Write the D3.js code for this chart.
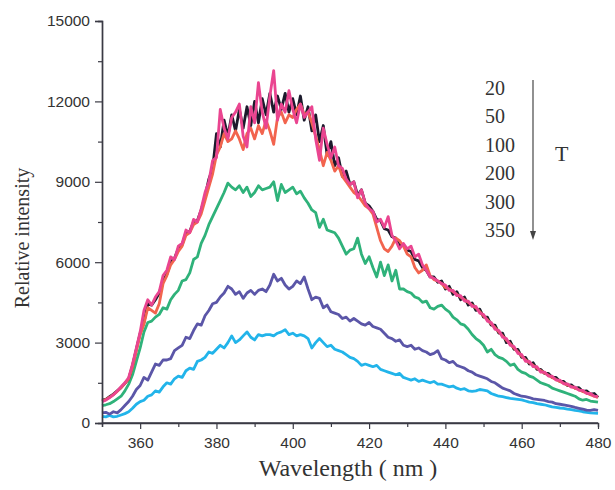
<!DOCTYPE html>
<html>
<head>
<meta charset="utf-8">
<script src="https://cdn.jsdelivr.net/npm/d3@7/dist/d3.min.js"></script>
<style>
  html, body { margin: 0; padding: 0; background: #fff; }
  svg { display: block; }
</style>
</head>
<body>
<svg id="chart" width="615" height="490"></svg>
<script>
// Wavelength axis (nm), 1 nm steps from 350 to 480
const wavelengths = d3.range(350, 481, 1);

const xTicks = [360, 380, 400, 420, 440, 460, 480];
const yTicks = [0, 3000, 6000, 9000, 12000, 15000];
const legendLabels = ["20", "50", "100", "200", "300", "350"];

// Series (relative intensity), one value per nm, 350..480
const sT20 = [
  850, 880, 980, 1080, 1200, 1320, 1480, 1650,
  2150, 2750, 3350, 3750, 4450, 4400, 4600,
  4850, 5300, 5550, 6000, 6150, 6500, 6650, 7100, 7150, 7500, 7550, 7950,
  8450, 9100, 9500, 10800, 10300, 11300, 10700, 11500,
  10900, 11700, 11000, 11800, 11100, 12000, 11200, 12100, 11500, 12300, 11600, 12200, 11700, 12300, 11600,
  12100, 11500, 12200, 11300, 11800, 10900, 11500, 10500, 11100, 10000, 10500, 9600, 9900, 9200, 9400,
  8900, 9000, 8500, 8700, 8200, 8100, 7900, 7600, 7550, 7250, 7200, 6950, 6900, 6600, 6650, 6450,
  6400, 6100, 6050, 5800, 5700, 5450, 5450, 5250, 5300, 5000, 5100, 4800, 4900, 4600, 4700, 4400, 4480, 4200, 4250, 3950,
  3950, 3650, 3650, 3350, 3350, 3000, 3050, 2750, 2750, 2450, 2450, 2200, 2250, 2000, 2000,
  1850, 1850, 1700, 1700, 1550, 1550, 1400, 1420, 1300, 1320, 1180, 1200, 1080, 1100, 950
];
const sT50 = [
  800, 850, 950, 1050, 1200, 1350, 1500, 1700,
  2200, 2800, 3400, 4200, 4600, 4400, 4700,
  4900, 5500, 5700, 6200, 6100, 6600, 6700, 7200, 7100, 7600, 7500, 8000,
  8600, 9000, 9800, 9900, 11700, 11000, 10600, 11400,
  11600, 11900, 10700, 10300, 11800, 11200, 12700, 11600, 11000, 12200, 13150, 11300, 11900, 11600, 12400,
  11700, 11200, 11900, 11400, 11600, 11800, 10600, 9800, 11000, 10400, 9900, 10300, 9600, 9500, 9100,
  8900, 9000, 8400, 8700, 8200, 8000, 7900, 7500, 7600, 7300, 7700, 7000, 6800, 6500, 6700, 6500,
  6600, 6200, 6300, 5900, 5700, 5450, 5400, 5300, 5200, 5150, 4950, 4950, 4750, 4750, 4550, 4550, 4350, 4350, 4100, 4050,
  3800, 3750, 3500, 3450, 3200, 3150, 2900, 2850, 2600, 2550, 2300, 2300, 2100, 2100, 1900,
  1900, 1750, 1750, 1600, 1600, 1460, 1460, 1340, 1340, 1220, 1220, 1100, 1100, 1000, 980
];
const sT100 = [
  820, 870, 960, 1060, 1180, 1320, 1480, 1650,
  2100, 2700, 3300, 3700, 4300, 4200, 4100,
  4450, 5200, 5500, 5900, 6100, 6400, 6600, 7000, 7100, 7400, 7500, 7800,
  8300, 8800, 9300, 10000, 10300, 10800, 10500, 10600,
  10900, 10600, 10200, 10800, 11000, 10600, 11100, 10800, 11300, 10900, 10400, 11400, 11600, 11200, 11500,
  11400, 11700, 11900, 11500, 11600, 11200, 10700, 10200, 9600, 10100, 9800, 9400, 9600, 9200, 9000,
  8800, 8600, 8500, 8300, 8100, 8000, 7800, 7300, 6800, 6500, 6400, 6600, 6900, 6800, 6600, 6300,
  6200, 5800, 5600, 5700, 5900, 5500, 5350, 5300, 5200, 5050, 5000, 4900, 4800, 4700, 4600, 4500, 4400, 4300, 4150, 4000,
  3850, 3700, 3560, 3400, 3250, 3100, 2950, 2800, 2650, 2500, 2360, 2250, 2150, 2050, 1950,
  1860, 1780, 1700, 1620, 1550, 1480, 1420, 1360, 1300, 1240, 1180, 1120, 1060, 1000, 950
];
const sT200 = [
  650, 680, 720, 800, 900, 1000, 1200, 1450, 1800, 2300,
  2800, 3400, 3750, 3800, 3950, 4050, 4300, 4250, 4600, 4800,
  4950, 5300, 5350, 5600, 6100, 6200, 6700, 7000, 7400, 7700,
  8000, 8300, 8600, 8950, 8800, 8700, 8850, 8600, 8800, 8450,
  8600, 8850, 8700, 8750, 8800, 9000, 8300, 8900, 8600, 8700,
  8800, 8550, 8650, 8400, 8200, 7950, 7850, 7300, 7600, 7200,
  7150, 7100, 6900, 6600, 6300, 6450, 6500, 6900, 6300, 5950,
  6200, 5800, 5450, 6000, 5500, 5900, 5300, 5700, 5000, 5000,
  4900, 4850, 4700, 4650, 4500, 4550, 4300, 4250, 4350, 4400,
  4250, 4150, 3950, 3850, 3700, 3650, 3500, 3300, 3150, 3050,
  2900, 2650, 2750, 2550, 2450, 2400, 2300, 2150, 2200, 2000,
  1900, 1850, 1750, 1700, 1600, 1500, 1450, 1400, 1300, 1250,
  1200, 1150, 1100, 1050, 1000, 900, 850, 880, 820, 800,
  780
];
const sT300 = [
  380, 400, 330, 420, 380, 500, 650, 800, 1000, 1250,
  1400, 1700, 1600, 1900, 2200, 2150, 2350, 2350, 2400, 2700,
  2800, 2900, 3200, 3150, 3450, 3700, 3650, 4000, 4200, 4450,
  4500, 4700, 4850, 5100, 5000, 4800, 4900, 4650, 4850, 4950,
  4800, 4950, 5000, 4900, 5150, 5550, 5300, 5400, 5150, 5000,
  5100, 5300, 5200, 5450, 5000, 4600, 4700, 4650, 4300, 4400,
  4150, 4100, 4050, 3900, 3950, 3800, 3900, 3800, 3700, 3650,
  3750, 3600, 3550, 3500, 3350, 3200, 3150, 3050, 3100, 2900,
  2850, 2900, 2750, 2800, 2700, 2650, 2550, 2600, 2700, 2400,
  2350, 2250, 2300, 2150, 2100, 2050, 1950, 1900, 1800, 1750,
  1700, 1650, 1550, 1500, 1400, 1300, 1250, 1200, 1100, 1050,
  1000, 980, 950, 900, 880, 860, 840, 800, 780, 720,
  700, 680, 650, 620, 580, 550, 520, 480, 470, 500,
  470
];
const sT350 = [
  250, 230, 280, 230, 250, 300, 350, 420, 550, 700,
  800, 850, 1000, 1050, 1200, 1150, 1350, 1500, 1450, 1650,
  1750, 1700, 1950, 2050, 2000, 2300, 2350, 2450, 2650, 2600,
  2750, 2900, 2800, 3000, 3250, 3000, 3100, 3250, 3400, 3200,
  3100, 3300, 3250, 3300, 3300, 3250, 3350, 3400, 3480, 3300,
  3350, 3250, 3300, 3250, 3150, 2800, 3000, 3150, 3000, 2850,
  2900, 2750, 2700, 2650, 2550, 2450, 2400, 2300, 2150, 2200,
  2150, 2100, 2150, 2000, 1950, 1900, 1850, 1800, 1850, 1700,
  1650, 1600, 1650, 1550, 1600, 1550, 1500, 1550, 1450, 1450,
  1400, 1350, 1380, 1300, 1250, 1280, 1200, 1180, 1200, 1250,
  1230, 1200, 1100, 1050, 1000, 980, 950, 920, 900, 880,
  860, 820, 780, 760, 720, 700, 680, 640, 600, 580,
  560, 550, 520, 500, 470, 450, 420, 400, 380, 370,
  360
];

const seriesList = [
  { name: "350", values: sT350, color: "#22b4ea" },
  { name: "300", values: sT300, color: "#5b56a8" },
  { name: "200", values: sT200, color: "#2fb27a" },
  { name: "20",  values: sT20,  color: "#1c1a2c" },
  { name: "100", values: sT100, color: "#f2644e" },
  { name: "50",  values: sT50,  color: "#ea4590" }
];

const svg = d3.select("#chart");
const x = d3.scaleLinear().domain([350, 480]).range([102, 598]);
const y = d3.scaleLinear().domain([0, 15000]).range([423, 21]);

// Curves
const line = d3.line()
  .x((d, i) => x(wavelengths[i]))
  .y(d => y(d));

svg.append("g").selectAll("path")
  .data(seriesList)
  .join("path")
  .attr("d", s => line(s.values))
  .attr("fill", "none")
  .attr("stroke", s => s.color)
  .attr("stroke-width", 2.8)
  .attr("stroke-linejoin", "round");

const axisColor = "#3a3a44";
const tickFont = "'Liberation Sans', Arial, sans-serif";
const serifFont = "'Liberation Serif', 'Times New Roman', serif";

// X axis
const xAxis = svg.append("g").attr("transform", "translate(0,423)");
xAxis.call(d3.axisBottom(x).tickValues(xTicks).tickSize(6).tickPadding(8).tickFormat(d3.format("d")));
xAxis.append("g").call(d3.axisBottom(x).tickValues(d3.range(350, 481, 10).filter(v => !xTicks.includes(v))).tickSize(4).tickFormat(""));
xAxis.selectAll(".domain").attr("stroke", axisColor).attr("stroke-width", 1.4);
xAxis.selectAll("line").attr("stroke", axisColor).attr("stroke-width", 1.2);
xAxis.selectAll("text").attr("font-family", tickFont).attr("font-size", 15.5).attr("fill", "#333");
xAxis.select(".domain").attr("d", "M102,0H598");

// Y axis
const yAxis = svg.append("g").attr("transform", "translate(102,0)");
yAxis.call(d3.axisLeft(y).tickValues(yTicks).tickSize(7).tickPadding(5).tickFormat(d3.format("d")));
yAxis.append("g").call(d3.axisLeft(y).tickValues(d3.range(1500, 15000, 3000)).tickSize(4).tickFormat(""));
yAxis.selectAll(".domain").attr("stroke", axisColor).attr("stroke-width", 1.4);
yAxis.selectAll("line").attr("stroke", axisColor).attr("stroke-width", 1.2);
yAxis.selectAll("text").attr("font-family", tickFont).attr("font-size", 15.5).attr("fill", "#333");

// Axis titles
svg.append("text")
  .attr("x", 348).attr("y", 476)
  .attr("text-anchor", "middle")
  .attr("font-family", serifFont).attr("font-size", 24).attr("fill", "#333")
  .text("Wavelength ( nm )");

svg.append("text")
  .attr("transform", "translate(29,238) rotate(-90)")
  .attr("text-anchor", "middle")
  .attr("font-family", serifFont).attr("font-size", 20).attr("fill", "#333")
  .text("Relative intensity");

// Legend (T ordering)
const legendY = d3.scalePoint().domain(legendLabels).range([88, 230]);
svg.append("g").selectAll("text")
  .data(legendLabels)
  .join("text")
  .attr("x", 485)
  .attr("y", d => legendY(d) + 7)
  .attr("font-family", serifFont).attr("font-size", 20).attr("fill", "#333")
  .text(d => d);

svg.append("line")
  .attr("x1", 533).attr("x2", 533)
  .attr("y1", 80).attr("y2", 234)
  .attr("stroke", "#555").attr("stroke-width", 1.3);
svg.append("path")
  .attr("d", "M530,231 L533,240 L536,231 Z")
  .attr("fill", "#444");

svg.append("text")
  .attr("x", 555).attr("y", 161)
  .attr("font-family", serifFont).attr("font-size", 22).attr("fill", "#333")
  .text("T");
</script>
</body>
</html>
